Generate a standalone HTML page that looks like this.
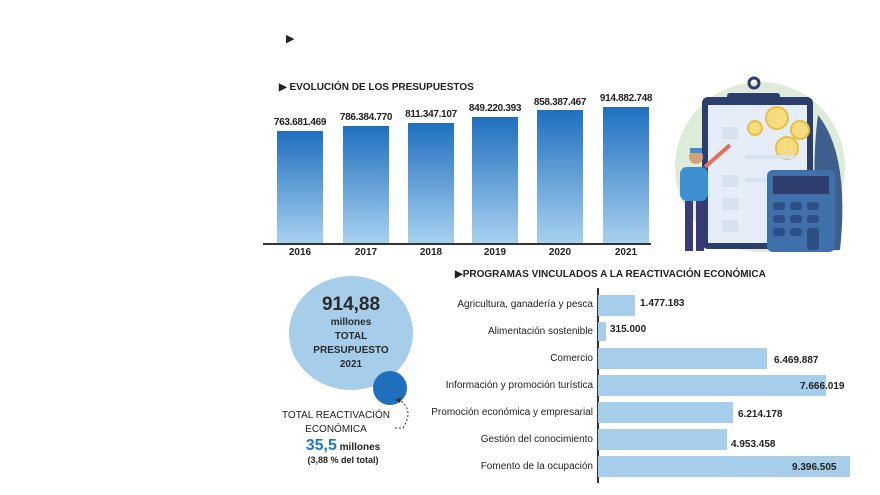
<!DOCTYPE html>
<html><head><meta charset="utf-8"><style>
body{margin:0;background:#fff;width:880px;height:495px;overflow:hidden;position:relative;font-family:"Liberation Sans Narrow","Liberation Sans",sans-serif;color:#222}
.a{position:absolute;white-space:nowrap}
.bar{position:absolute;background:linear-gradient(#1f6fbf,#a9d1ef);}
.hb{position:absolute;background:#a6cdea;left:598px}
.lab{position:absolute;right:287px;font-size:10px;white-space:nowrap}
.v{position:absolute;font-size:10px;font-weight:bold;white-space:nowrap}
.yr{position:absolute;top:247px;font-size:10px;font-weight:bold;width:46px;text-align:center}
.bv{position:absolute;font-size:10px;font-weight:bold;width:70px;text-align:center;letter-spacing:-0.3px}
</style></head><body>
<div class="a" style="left:286px;top:32px;font-size:11px">▶</div>
<div class="a" style="left:279px;top:82px;font-size:10px;font-weight:bold">▶ EVOLUCIÓN DE LOS PRESUPUESTOS</div>

<div class="bar" style="left:277px;top:131px;width:46px;height:113px"></div>
<div class="bar" style="left:343px;top:126px;width:46px;height:118px"></div>
<div class="bar" style="left:408px;top:123px;width:46px;height:121px"></div>
<div class="bar" style="left:472px;top:117px;width:46px;height:127px"></div>
<div class="bar" style="left:537px;top:110px;width:46px;height:134px"></div>
<div class="bar" style="left:603px;top:107px;width:46px;height:137px"></div>
<div class="a" style="left:263px;top:243px;width:388px;height:2px;background:#333"></div>
<div class="bv" style="left:265px;top:117px">763.681.469</div>
<div class="bv" style="left:331px;top:112px">786.384.770</div>
<div class="bv" style="left:396px;top:109px">811.347.107</div>
<div class="bv" style="left:460px;top:103px">849.220.393</div>
<div class="bv" style="left:525px;top:97px">858.387.467</div>
<div class="bv" style="left:591px;top:93px">914.882.748</div>
<div class="yr" style="left:277px">2016</div><div class="yr" style="left:343px">2017</div><div class="yr" style="left:408px">2018</div><div class="yr" style="left:472px">2019</div><div class="yr" style="left:537px">2020</div><div class="yr" style="left:603px">2021</div>

<svg class="a" style="left:650px;top:75px" width="220" height="190">
<circle cx="110" cy="92" r="85" fill="#dfebd9"/>
<path d="M168 40 Q200 80 190 175 L170 175 Q160 100 168 40Z" fill="#3e5f8e"/>
<rect x="52" y="22" width="111" height="152" rx="6" fill="#2c3e6b"/>
<rect x="58" y="30" width="99" height="138" fill="#e4edf8"/>
<rect x="77" y="18" width="53" height="10" rx="3" fill="#2c3e6b"/>
<circle cx="104" cy="8" r="5" fill="none" stroke="#2c3e6b" stroke-width="3"/>
<g fill="#f6dc7e" stroke="#e6c040" stroke-width="2"><circle cx="127" cy="43" r="11"/><circle cx="105" cy="53" r="7"/><circle cx="150" cy="55" r="9"/><circle cx="137" cy="73" r="11"/></g>
<g fill="#d6e2ee"><rect x="72" y="52" width="16" height="12"/><rect x="72" y="100" width="16" height="12"/><rect x="72" y="123" width="16" height="12"/><rect x="72" y="145" width="16" height="12"/><rect x="95" y="80" width="50" height="4"/><rect x="95" y="103" width="50" height="4"/></g>
<rect x="117" y="95" width="68" height="82" rx="6" fill="#3f70aa"/>
<rect x="123" y="101" width="56" height="18" fill="#2e3c6e"/>
<g fill="#2d4f85"><rect x="123" y="127" width="12" height="8" rx="3"/><rect x="140" y="127" width="12" height="8" rx="3"/><rect x="157" y="127" width="12" height="8" rx="3"/><rect x="123" y="140" width="12" height="8" rx="3"/><rect x="140" y="140" width="12" height="8" rx="3"/><rect x="157" y="140" width="12" height="8" rx="3"/><rect x="123" y="153" width="12" height="8" rx="3"/><rect x="140" y="153" width="12" height="8" rx="3"/><rect x="157" y="153" width="12" height="22" rx="3"/></g>
<path d="M55 92 L80 70" stroke="#e0715a" stroke-width="4"/>
<rect x="30" y="92" width="28" height="34" rx="7" fill="#3d8fd0"/><circle cx="46" cy="82" r="7" fill="#d9a07c"/><rect x="40" y="73" width="12" height="5" fill="#3d8fd0"/>
<rect x="35" y="126" width="8" height="50" fill="#3b3a78"/><rect x="46" y="126" width="8" height="50" fill="#3b3a78"/>
</svg>

<div class="a" style="left:455px;top:269px;font-size:10px;font-weight:bold">▶PROGRAMAS VINCULADOS A LA REACTIVACIÓN ECONÓMICA</div>
<div class="a" style="left:597px;top:288px;width:1.5px;height:195px;background:#333"></div>
<div class="hb" style="top:295px;width:37px;height:21px"></div>
<div class="hb" style="top:322px;width:8px;height:19px"></div>
<div class="hb" style="top:348px;width:169px;height:21px"></div>
<div class="hb" style="top:375px;width:228px;height:21px"></div>
<div class="hb" style="top:402px;width:135px;height:21px"></div>
<div class="hb" style="top:429px;width:129px;height:21px"></div>
<div class="hb" style="top:456px;width:252px;height:21px"></div>
<div class="lab" style="top:299px">Agricultura, ganadería y pesca</div>
<div class="lab" style="top:326px">Alimentación sostenible</div>
<div class="lab" style="top:353px">Comercio</div>
<div class="lab" style="top:380px">Información y promoción turística</div>
<div class="lab" style="top:407px">Promoción económica y empresarial</div>
<div class="lab" style="top:434px">Gestión del conocimiento</div>
<div class="lab" style="top:461px">Fomento de la ocupación</div>
<div class="v" style="left:640px;top:298px">1.477.183</div>
<div class="v" style="left:610px;top:324px">315.000</div>
<div class="v" style="left:774px;top:355px">6.469.887</div>
<div class="v" style="left:800px;top:381px">7.666.019</div>
<div class="v" style="left:738px;top:409px">6.214.178</div>
<div class="v" style="left:731px;top:439px">4.953.458</div>
<div class="v" style="left:792px;top:462px">9.396.505</div>

<div class="a" style="left:289px;top:276px;width:124px;height:114px;border-radius:50%;background:#a6cdea"></div>
<div class="a" style="left:373px;top:371px;width:34px;height:34px;border-radius:50%;background:#1f6fbd"></div>
<div class="a" style="left:289px;top:294px;width:124px;text-align:center;font-weight:bold;color:#2b2b2b;line-height:14px;font-size:10px"><span style="font-size:19px;line-height:22px">914,88</span><br>millones<br>TOTAL<br>PRESUPUESTO<br>2021</div>
<div class="a" style="left:276px;top:409px;width:120px;text-align:center;font-size:10px;line-height:14px">TOTAL REACTIVACIÓN<br>ECONÓMICA</div>
<div class="a" style="left:283px;top:437px;width:120px;text-align:center;font-size:10px;font-weight:bold"><span style="font-size:16px;color:#1f78c8">35,5</span> millones</div>
<div class="a" style="left:283px;top:455px;width:120px;text-align:center;font-size:9px;font-weight:bold">(3,88 % del total)</div>
<svg class="a" style="left:395px;top:395px" width="30" height="40"><path d="M3 4 Q20 14 8 33 L0 33" fill="none" stroke="#333" stroke-dasharray="2,2"/><path d="M0 5 L6 2 L5 8Z" fill="#333"/></svg>
</body></html>
